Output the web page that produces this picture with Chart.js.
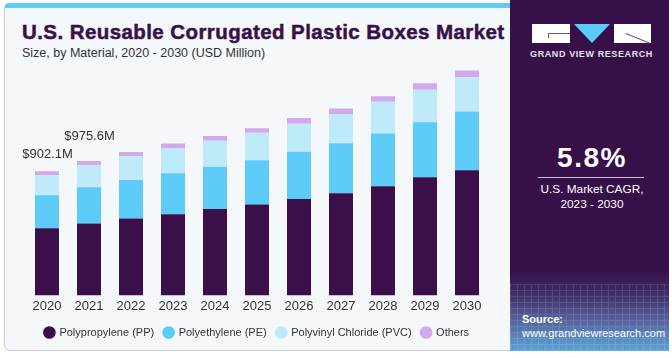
<!DOCTYPE html>
<html>
<head>
<meta charset="utf-8">
<script src="https://cdn.jsdelivr.net/npm/chart.js@4.4.1/dist/chart.umd.min.js"></script>
<style>
  html, body { margin: 0; padding: 0; background: #ffffff; }
  body { width: 672px; height: 358px; position: relative; overflow: hidden; font-family: "Liberation Sans", Arial, sans-serif; }
  #card { position: absolute; left: 4px; top: 3px; width: 510px; height: 348px; background: #f4f8fb;
          border: 1px solid #c9cdd2; border-top: 5px solid #5ccbf5; border-radius: 5px 0 0 6px; box-sizing: border-box; }
  #title { position: absolute; left: 22px; top: 20px; font-size: 20.5px; font-weight: bold; color: #3a1048; white-space: nowrap;
           letter-spacing: 0.42px; -webkit-text-stroke: 0.5px #3a1048; }
  #subtitle { position: absolute; left: 22px; top: 46px; font-size: 12.5px; color: #333; white-space: nowrap; }
  #wrap { position: absolute; left: 4px; top: 40px; width: 506px; height: 312px; }
  #panel { position: absolute; left: 510px; top: 0; width: 159px; height: 351px; overflow: hidden;
           background: linear-gradient(to bottom, #37104a 0px, #37104a 270px, #3d2a63 292px, #55609a 320px, #5aa4d8 351px); }
  #mesh { position: absolute; left: 0; top: 284px; width: 159px; height: 67px; opacity: 0.12;
          background-image: repeating-linear-gradient(90deg, #ffffff 0 1px, transparent 1px 7px),
                            repeating-linear-gradient(0deg, #ffffff 0 1px, transparent 1px 6px); }
  .w { position: absolute; background: #ffffff; }
  #tri { position: absolute; left: 64px; top: 24px; width: 0; height: 0;
         border-left: 18px solid transparent; border-right: 18px solid transparent; border-top: 19px solid #5ccbf5; }
  #gvr { position: absolute; left: 0; width: 163px; top: 49px; text-align: center; color: #e6e2ea; font-size: 9px; font-weight: bold; letter-spacing: 0.6px; }
  #cagr { position: absolute; left: 0; width: 164px; top: 142px; text-align: center; color: #ffffff; font-size: 28px; font-weight: bold; letter-spacing: 1.5px; }
  #rule { position: absolute; left: 28px; top: 177px; width: 106px; height: 1px; background: #c8c0d0; }
  #cagrtxt { position: absolute; left: 0; width: 164px; top: 182px; text-align: center; color: #ffffff; font-size: 11.8px; line-height: 14.5px; }
  #src { position: absolute; left: 12px; top: 313px; color: #ffffff; font-size: 11px; line-height: 13.5px; }
</style>
</head>
<body>
<div id="card"></div>
<div id="title">U.S. Reusable Corrugated Plastic Boxes Market</div>
<div id="subtitle">Size, by Material, 2020 - 2030 (USD Million)</div>
<div id="wrap"><canvas id="chart"></canvas></div>
<div id="panel">
  <div id="mesh"></div>
  <div class="w" style="left:22px;top:24px;width:38px;height:19px;"></div>
  <div style="position:absolute;left:38px;top:33px;width:22px;height:1px;background:#6b5a78;"></div>
  <div style="position:absolute;left:38px;top:33px;width:1px;height:5px;background:#6b5a78;"></div>
  <div id="tri"></div>
  <div class="w" style="left:104px;top:24px;width:37px;height:19px;"></div>
  <div style="position:absolute;left:116px;top:33px;width:26px;height:1px;background:#6b5a78;transform:rotate(22deg);transform-origin:0 0;"></div>
  <div id="gvr">GRAND VIEW RESEARCH</div>
  <div id="cagr">5.8%</div>
  <div id="rule"></div>
  <div id="cagrtxt">U.S. Market CAGR,<br>2023 - 2030</div>
  <div id="src"><b>Source:</b><br>www.grandviewresearch.com</div>
</div>
<script>
// data (USD Million)
const years = ['2020', '2021', '2022', '2023', '2024', '2025', '2026', '2027', '2028', '2029', '2030']
const polypropylene = [487, 522, 558, 589, 628, 660, 701, 742, 793, 858, 909]
const polyethylene = [240, 264, 281, 298, 306, 322, 342, 364, 383, 400, 426]
const polyvinylChloride = [146, 160, 172, 180, 189, 199, 204, 211, 230, 236, 250]
const others = [29, 30, 31, 36, 34, 34, 41, 41, 41, 47, 48]
const totalLabels = ['$902.1M', '$975.6M']
const labelLift = [17, 25]

// labels over the first two bars
const totalLabelPlugin = {
    id: 'totalLabels',
    afterDatasetsDraw(chart) {
        const ctx = chart.ctx
        const x = chart.scales.x
        const y = chart.scales.y
        ctx.save()
        ctx.font = '13px "Liberation Sans", Arial, sans-serif'
        ctx.fillStyle = '#333333'
        ctx.textAlign = 'center'
        ctx.textBaseline = 'middle'
        totalLabels.forEach((text, i) => {
            const total = polypropylene[i] + polyethylene[i] + polyvinylChloride[i] + others[i]
            ctx.fillText(text, x.getPixelForValue(i) + 0.5, y.getPixelForValue(total) - labelLift[i])
        })
        ctx.restore()
    }
}

const ctx = document.getElementById('chart').getContext('2d')
const chart = new Chart(ctx, {
    type: 'bar',
    data: {
        labels: years,
        datasets: [
            { label: 'Polypropylene (PP)', data: polypropylene, backgroundColor: '#3a0f4a' },
            { label: 'Polyethylene (PE)', data: polyethylene, backgroundColor: '#5ccbf7' },
            { label: 'Polyvinyl Chloride (PVC)', data: polyvinylChloride, backgroundColor: '#bfeafa' },
            { label: 'Others', data: others, backgroundColor: '#d3a8ec' },
        ]
    },
    options: {
        responsive: true,
        maintainAspectRatio: false,
        animation: false,
        barPercentage: 0.571,
        categoryPercentage: 1,
        layout: { padding: { left: 22, right: 22, top: 7.6, bottom: 4 } },
        scales: {
            x: {
                stacked: true,
                grid: { display: false, drawTicks: false },
                border: { display: false },
                ticks: { color: '#333333', padding: 3, font: { size: 13, family: '"Liberation Sans", Arial, sans-serif' } }
            },
            y: { stacked: true, display: false, min: 0, max: 1800 }
        },
        plugins: {
            tooltip: { enabled: false },
            legend: {
                position: 'bottom',
                labels: {
                    usePointStyle: true,
                    pointStyle: 'circle',
                    boxWidth: 9,
                    boxHeight: 9,
                    padding: 10,
                    color: '#333333',
                    font: { size: 11, family: '"Liberation Sans", Arial, sans-serif' }
                }
            }
        }
    },
    plugins: [totalLabelPlugin]
});
</script>
</body>
</html>
